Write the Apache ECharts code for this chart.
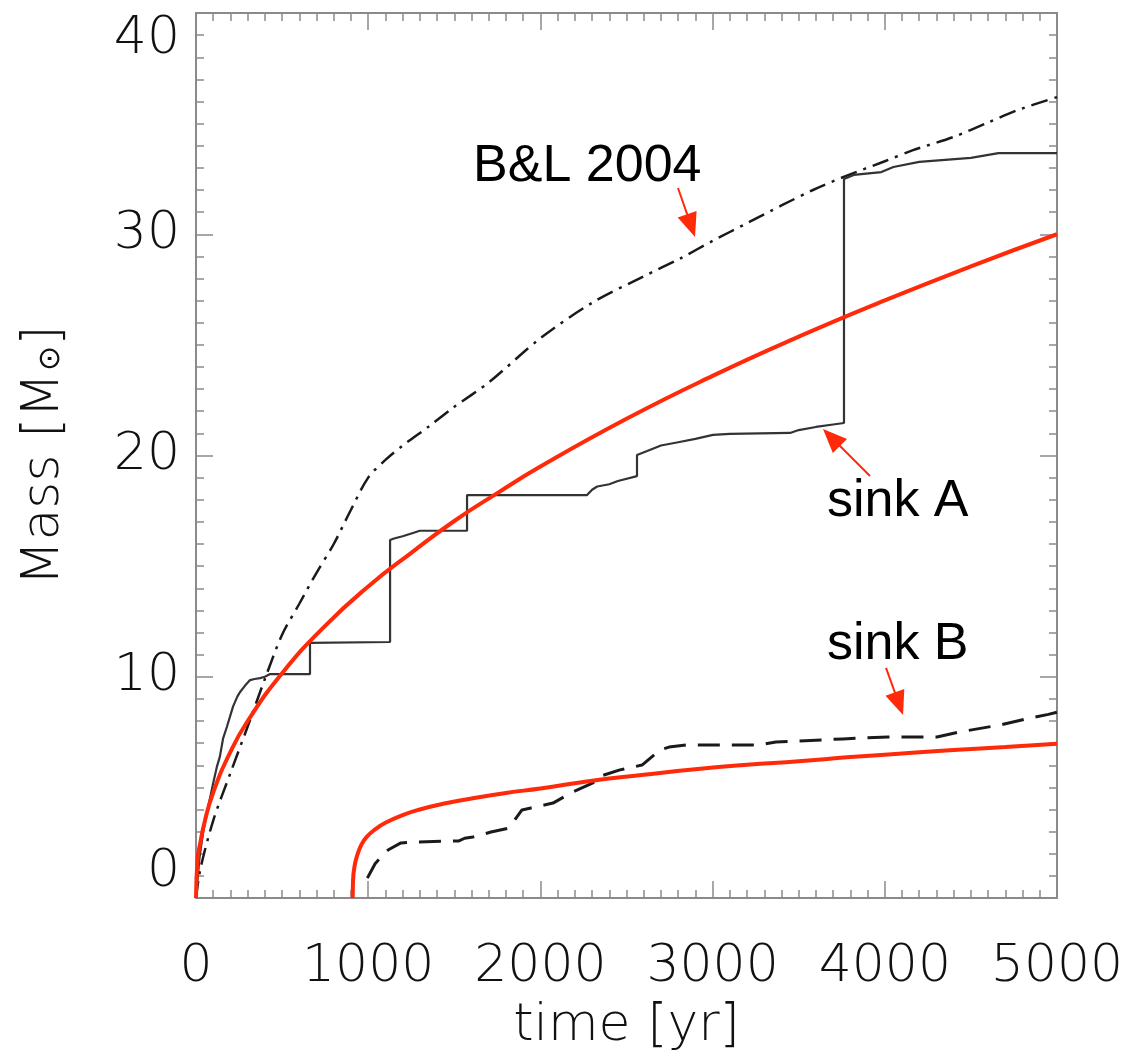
<!DOCTYPE html>
<html>
<head>
<meta charset="utf-8">
<script src="https://cdn.jsdelivr.net/npm/echarts@6/dist/echarts.min.js"></script>
<style>
  html, body { margin: 0; padding: 0; background: #ffffff; }
  #chart { width: 1129px; height: 1063px; }
</style>
</head>
<body>
<div id="chart"></div>
<script>
// Accreted mass of the two sink particles, [time (yr), mass (Msun)]
const sinkA = [
  [0, 0], [20, 1.8], [40, 2.9], [60, 3.7], [81, 4.5], [100, 5.2], [122, 5.95], [139, 6.4],
  [157, 7.2], [180, 7.75], [215, 8.65], [240, 9.1], [255, 9.3], [285, 9.6], [314, 9.85],
  [340, 9.9], [372, 9.94], [400, 10.0], [430, 10.12], [662, 10.12], [662, 11.53],
  [1127, 11.57], [1127, 16.18], [1150, 16.25], [1200, 16.35], [1260, 16.5], [1300, 16.6],
  [1574, 16.6], [1574, 18.21], [2271, 18.21], [2300, 18.45], [2330, 18.6], [2400, 18.7],
  [2450, 18.85], [2561, 19.07], [2561, 20.02], [2620, 20.2], [2700, 20.45], [2800, 20.6],
  [2900, 20.75], [3002, 20.93], [3100, 20.98], [3450, 21.02], [3500, 21.15], [3600, 21.29],
  [3700, 21.4], [3763, 21.47], [3763, 32.5], [3820, 32.68], [3980, 32.81], [4050, 33.04],
  [4200, 33.27], [4500, 33.45], [4660, 33.67], [5000, 33.67]
];
const sinkB = [
  [995, 0.9], [1040, 1.55], [1080, 1.9], [1115, 2.17], [1190, 2.49], [1272, 2.53],
  [1527, 2.58], [1560, 2.7], [1608, 2.76], [1713, 2.98], [1817, 3.16], [1893, 3.98],
  [1945, 4.07], [2073, 4.29], [2178, 4.75], [2305, 5.2], [2334, 5.47], [2462, 5.79],
  [2590, 6.01], [2694, 6.69], [2747, 6.82], [2851, 6.92], [3269, 6.92], [3368, 7.05],
  [3757, 7.19], [4019, 7.28], [4303, 7.28], [4431, 7.5], [4669, 7.82], [4843, 8.13],
  [4950, 8.3], [5000, 8.4]
];
// Analytic accretion model (Bonnell & Larson 2004)
const bl2004 = [
  [0, 0], [25, 1.3], [100, 3.5], [200, 5.65], [300, 7.75], [400, 9.9], [500, 11.9],
  [600, 13.3], [700, 14.7], [800, 16.0], [900, 17.55], [1000, 19.0], [1100, 19.8],
  [1200, 20.45], [1350, 21.3], [1500, 22.2], [1700, 23.3], [2000, 25.3], [2300, 26.9],
  [2600, 28.1], [2811, 28.9], [3000, 29.7], [3200, 30.5], [3400, 31.3], [3583, 32.0],
  [3780, 32.65], [4000, 33.3], [4164, 33.8], [4400, 34.4], [4600, 35.05], [4768, 35.6],
  [5000, 36.2]
];
// Smooth fits to the two accretion histories
const fitA = [
  [0, 0], [10, 1.8], [25, 2.49], [50, 3.44], [100, 4.77], [200, 6.61], [300, 8.0],
  [500, 10.16], [750, 12.3], [1000, 14.08], [1250, 15.6], [1500, 17.04], [1750, 18.3],
  [2000, 19.5], [2500, 21.66], [3000, 23.6], [3500, 25.37], [4000, 27.01], [4500, 28.55],
  [5000, 30.0]
];
const fitB = [
  [910, 0], [912, 0.8], [920, 1.4], [935, 1.9], [960, 2.4], [990, 2.75], [1040, 3.1],
  [1100, 3.4], [1200, 3.75], [1300, 4.0], [1450, 4.28], [1600, 4.5], [1800, 4.75],
  [2000, 4.95], [2300, 5.3], [2600, 5.57], [2900, 5.82], [3200, 6.02], [3500, 6.18],
  [3800, 6.37], [4100, 6.53], [4400, 6.69], [4700, 6.82], [5000, 6.97]
];

// Annotation labels: text, anchor [time, mass] (left edge, vertical middle)
const labels = [
  { text: 'B&L 2004', at: [1609, 33.04] },
  { text: 'sink A', at: [3664, 17.9] },
  { text: 'sink B', at: [3664, 11.43] }
];
// Annotation arrows: tail and tip in [time, mass]
const arrows = [
  { from: [2799, 32.09], to: [2898, 29.88] },
  { from: [3914, 19.07], to: [3641, 21.20] },
  { from: [4007, 10.40], to: [4106, 8.27] }
];

const X_MIN = 0, X_MAX = 5000, X_STEP = 1000;
const Y_MIN = 0, Y_MAX = 40, Y_STEP = 10;

const FRAME = '#8a8a8a';
const RED = '#ff2a0a';
const AXIS_FONT = 'DejaVu Sans';

const chart = echarts.init(document.getElementById('chart'), null, { renderer: 'canvas' });

function frameAxis(showLabels, extra) {
  return Object.assign({
    type: 'value',
    axisLine: { show: true, onZero: false, lineStyle: { color: FRAME, width: 2 } },
    axisTick: { show: true, inside: true, length: 17, lineStyle: { color: FRAME, width: 1.5 } },
    minorTick: { show: true, splitNumber: 10, length: 8, lineStyle: { color: FRAME, width: 1.5 } },
    splitLine: { show: false },
    minorSplitLine: { show: false },
    axisLabel: { show: showLabels }
  }, extra);
}

const plainNumber = function (v) { return String(v); };

const option = {
  backgroundColor: '#ffffff',
  animation: false,
  grid: { left: 196, right: 72, top: 13, bottom: 165, containLabel: false, outerBoundsMode: 'none' },
  xAxis: [
    frameAxis(true, {
      position: 'bottom', min: X_MIN, max: X_MAX, interval: X_STEP,
      name: 'time [yr]', nameLocation: 'middle', nameGap: 102,
      nameTextStyle: { fontFamily: AXIS_FONT, fontWeight: 200, fontSize: 52, color: '#111' },
      axisLabel: { show: true, margin: 43, formatter: plainNumber, fontFamily: AXIS_FONT, fontWeight: 200, fontSize: 52, color: '#111' }
    }),
    frameAxis(false, { position: 'top', min: X_MIN, max: X_MAX, interval: X_STEP })
  ],
  yAxis: [
    frameAxis(true, {
      position: 'left', min: Y_MIN, max: Y_MAX, interval: Y_STEP,
      name: 'Mass [M{sun|⊙}]', nameLocation: 'middle', nameGap: 126, nameRotate: 90,
      nameTextStyle: {
        fontFamily: AXIS_FONT, fontWeight: 200, fontSize: 52, color: '#111',
        rich: { sun: { fontFamily: AXIS_FONT, fontSize: 30, color: '#111', padding: [14, 0, 0, 2] } }
      },
      axisLabel: {
        show: true, margin: 16, formatter: plainNumber, fontFamily: AXIS_FONT, fontWeight: 200, fontSize: 52, color: '#111',
        verticalAlignMinLabel: 'bottom', verticalAlignMaxLabel: 'top'
      }
    }),
    frameAxis(false, { position: 'right', min: Y_MIN, max: Y_MAX, interval: Y_STEP })
  ],
  series: [
    {
      name: 'B&L 2004', type: 'line', data: bl2004, smooth: 0.3, showSymbol: false,
      lineStyle: { color: '#1a1a1a', width: 2.5, type: [17, 7, 3, 7] }, z: 2
    },
    {
      name: 'sink A', type: 'line', data: sinkA, showSymbol: false,
      lineStyle: { color: '#333333', width: 2.2 }, z: 2
    },
    {
      name: 'sink B', type: 'line', data: sinkB, showSymbol: false,
      lineStyle: { color: '#1a1a1a', width: 3, type: [22, 12] }, z: 2
    },
    {
      name: 'fit A', type: 'line', data: fitA, smooth: true, showSymbol: false,
      lineStyle: { color: RED, width: 4 }, z: 3
    },
    {
      name: 'fit B', type: 'line', data: fitB, smooth: true, showSymbol: false,
      lineStyle: { color: RED, width: 4 }, z: 3
    }
  ]
};

chart.setOption(option);

// Annotation texts and arrows placed through the axis scales
function toPx(p) { return chart.convertToPixel({ xAxisIndex: 0, yAxisIndex: 0 }, p); }

const graphics = [];
labels.forEach(function (l) {
  const p = toPx(l.at);
  graphics.push({
    type: 'text', x: p[0], y: p[1], z: 10,
    style: { text: l.text, fill: '#000', font: '52px "Liberation Sans", Arial, sans-serif',
             textAlign: 'left', textVerticalAlign: 'middle' }
  });
});
arrows.forEach(function (a) {
  const t = toPx(a.from), h = toPx(a.to);
  const dx = h[0] - t[0], dy = h[1] - t[1];
  const len = Math.sqrt(dx * dx + dy * dy);
  const ux = dx / len, uy = dy / len, nx = -uy, ny = ux;
  const headL = 24, headW = 20;
  const bx = h[0] - ux * headL, by = h[1] - uy * headL;
  graphics.push({
    type: 'line', z: 10,
    shape: { x1: t[0], y1: t[1], x2: bx + ux * 2, y2: by + uy * 2 },
    style: { stroke: RED, lineWidth: 2 }
  });
  graphics.push({
    type: 'polygon', z: 10,
    shape: { points: [[h[0], h[1]], [bx + nx * headW / 2, by + ny * headW / 2], [bx - nx * headW / 2, by - ny * headW / 2]] },
    style: { fill: RED }
  });
});
chart.setOption({ graphic: graphics });
</script>
</body>
</html>
